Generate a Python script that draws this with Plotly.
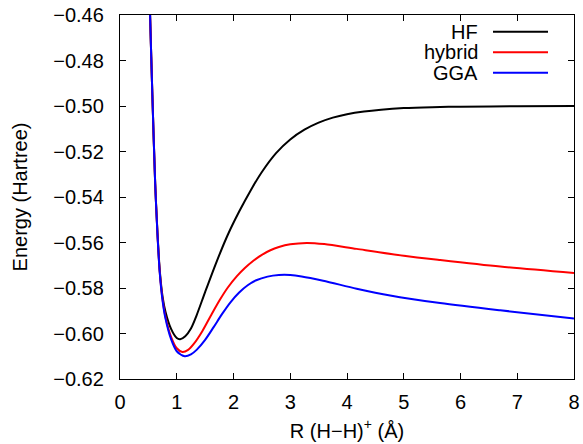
import plotly.graph_objects as go

# ---- data ----
r_hf = [0.50, 0.53, 0.57, 0.62, 0.66, 0.70, 0.75, 0.80, 0.90, 1.00, 1.06, 1.15, 1.25, 1.35,
        1.50, 1.70, 1.90, 2.10, 2.30, 2.50, 2.75, 3.00, 3.25, 3.50, 3.75, 4.00, 4.30, 4.60,
        5.00, 5.50, 6.00, 7.00, 8.00]
e_hf = [-0.433, -0.460, -0.495, -0.534, -0.5555, -0.5720, -0.5838, -0.5903, -0.5980, -0.6020,
        -0.6025, -0.6012, -0.5978, -0.5920, -0.5818, -0.5686, -0.5566, -0.5464, -0.5372,
        -0.5290, -0.5207, -0.5147, -0.5104, -0.5073, -0.5051, -0.5036, -0.5024, -0.5016,
        -0.5009, -0.5005, -0.5003, -0.5001, -0.5000]

r_hyb = [0.50, 0.53, 0.57, 0.62, 0.66, 0.70, 0.75, 0.80, 0.90, 1.00, 1.10, 1.20, 1.30, 1.45,
         1.60, 1.76, 1.90, 2.06, 2.20, 2.35, 2.50, 2.65, 2.80, 3.00, 3.29, 3.60, 4.17, 5.00,
         5.64, 6.70, 8.00]
e_hyb = [-0.433, -0.460, -0.495, -0.534, -0.5560, -0.5728, -0.5850, -0.5925, -0.6015, -0.6065,
         -0.6081, -0.6072, -0.6046, -0.5990, -0.5922, -0.5852, -0.5798, -0.5748, -0.5712,
         -0.5680, -0.5654, -0.5634, -0.5620, -0.5608, -0.5602, -0.5607, -0.5628, -0.5658,
         -0.5677, -0.5706, -0.5734]

r_gga = [0.50, 0.53, 0.57, 0.62, 0.66, 0.70, 0.75, 0.80, 0.90, 1.00, 1.14, 1.25, 1.35, 1.50,
         1.65, 1.80, 1.95, 2.10, 2.25, 2.40, 2.60, 2.80, 3.00, 3.20, 3.58, 4.17, 4.76, 5.64,
         6.70, 8.00]
e_gga = [-0.433, -0.460, -0.495, -0.534, -0.5562, -0.5731, -0.5855, -0.5932, -0.6025, -0.6078,
         -0.6100, -0.6092, -0.6072, -0.6028, -0.5972, -0.5914, -0.5862, -0.5820, -0.5788,
         -0.5766, -0.5750, -0.5743, -0.5743, -0.5749, -0.5768, -0.5803, -0.5833, -0.5866,
         -0.5898, -0.5934]

names = ["HF", "hybrid", "GGA"]
colors = ["black", "#ff0000", "#0000ff"]
series = [(r_hf, e_hf), (r_hyb, e_hyb), (r_gga, e_gga)]

y_ticks = [-0.46, -0.48, -0.50, -0.52, -0.54, -0.56, -0.58, -0.60, -0.62]
y_labels = ["−0.46", "−0.48", "−0.50", "−0.52", "−0.54", "−0.56", "−0.58", "−0.60", "−0.62"]
x_ticks = [0, 1, 2, 3, 4, 5, 6, 7, 8]

FONT = "Liberation Sans, Arial, Helvetica, sans-serif"
FS = 20

fig = go.Figure()
for (x, y), n, c in zip(series, names, colors):
    fig.add_trace(go.Scatter(x=x, y=y, mode="lines", name=n,
                             line=dict(color=c, width=2, shape="spline", smoothing=0.8),
                             showlegend=False))

W, H = 583, 444
ml, mr, mt, mb = 120, 9, 15, 65
pw, ph = W - ml - mr, H - mt - mb

# gnuplot-style key: text right-aligned, sample on the right
shapes = []
annotations = []
for i, (n, c) in enumerate(zip(names, colors)):
    ypix = 31.7 + i * 20.5
    yp = 1 - (ypix - mt) / ph
    x_text = (480 - ml) / pw
    x0 = (493 - ml) / pw
    x1 = (548 - ml) / pw
    annotations.append(dict(x=x_text, y=yp, xref="paper", yref="paper", text=n,
                            showarrow=False, xanchor="right", yanchor="middle",
                            font=dict(size=FS, color="black", family=FONT)))
    shapes.append(dict(type="line", xref="paper", yref="paper", x0=x0, x1=x1, y0=yp, y1=yp,
                       line=dict(color=c, width=2)))

fig.update_layout(
    width=W, height=H,
    margin=dict(l=ml, r=mr, t=mt, b=mb, autoexpand=False),
    paper_bgcolor="white", plot_bgcolor="white",
    font=dict(family=FONT, size=FS, color="black"),
    shapes=shapes, annotations=annotations,
    hovermode=False,
    xaxis=dict(range=[0, 8.000001], tickvals=x_ticks, ticks="inside", ticklen=6, tickwidth=1,
               tickcolor="black", showline=True, linecolor="black", linewidth=1.3,
               mirror="ticks", showgrid=False, zeroline=False, automargin=False,
               ticklabelstandoff=5, ticklabeloverflow="allow",
               title=dict(text="R (H−H)<sup>+</sup> (Å)", standoff=11,
                          font=dict(size=FS))),
    yaxis=dict(range=[-0.6200005, -0.4599995], tickvals=y_ticks, ticktext=y_labels,
               ticks="inside", ticklen=6, tickwidth=1, tickcolor="black", showline=True,
               linecolor="black", linewidth=1.3, mirror="ticks", showgrid=False,
               zeroline=False, automargin=False, ticklabelstandoff=11,
               ticklabeloverflow="allow",
               title=dict(text="Energy (Hartree)", standoff=20, font=dict(size=FS))),
)

# remove the browser's default 8px page margin so the figure sits at the window origin
fig.write_html("out.html",
               config={"displayModeBar": False},
               post_script="document.body.style.margin='0px';"
                           "document.body.style.overflow='hidden';")
